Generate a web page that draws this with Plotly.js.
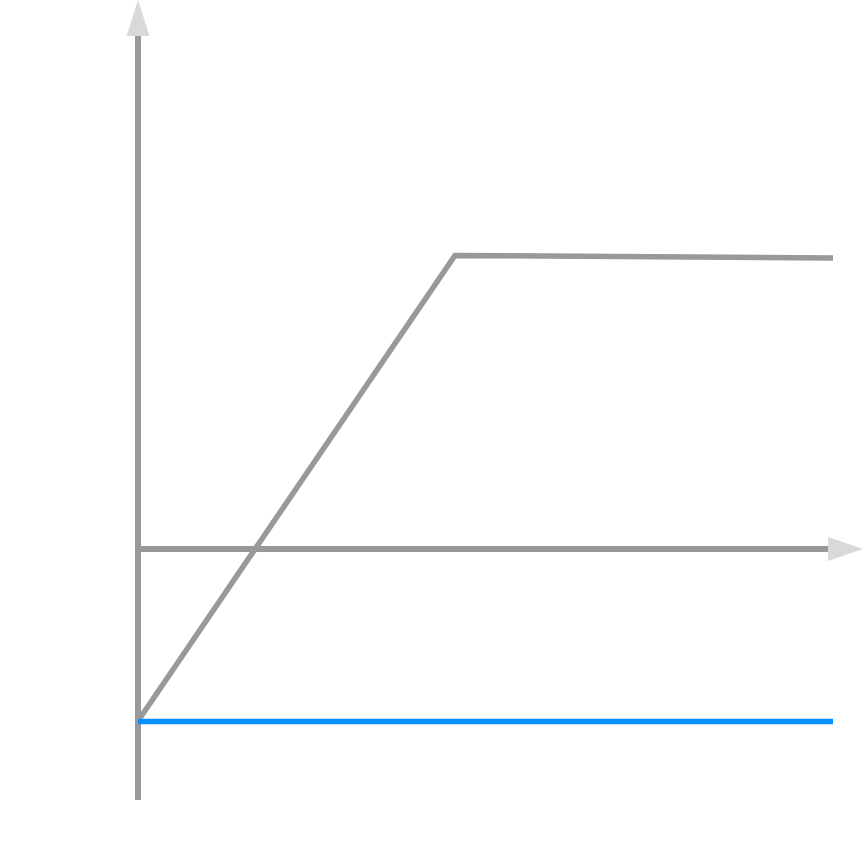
<!DOCTYPE html>
<html>
<head>
<meta charset="utf-8">
<script src="https://cdn.plot.ly/plotly-3.0.1.min.js"></script>
<style>html,body{margin:0;padding:0;background:#fff;}#chart{width:864px;height:867px;}</style>
</head>
<body>
<div id="chart"></div>
<script>
// Data
var grayX = [0, 4.56, 10];
var grayY = [-1.72, 2.935, 2.91];
var blueX = [0, 10];
var blueY = [-1.725, -1.725];

// Axis extents (data units)
var xAxisStart = -0.01, xAxisEnd = 9.93, xArrowTip = 10.43;
var yAxisBottom = -2.51, yAxisTop = 5.13, yArrowTip = 5.49;

var axisColor = '#999999';
var arrowColor = '#d9d9d9';

var traces = [
  {x: grayX, y: grayY, mode: 'lines', line: {color: '#999999', width: 5.5}, hoverinfo: 'skip'},
  {x: blueX, y: blueY, mode: 'lines', line: {color: '#0a8fff', width: 5.5}, hoverinfo: 'skip'}
];

var shapes = [
  {type: 'line', x0: 0, x1: 0, y0: yAxisBottom, y1: yAxisTop, line: {color: axisColor, width: 6}, layer: 'below'},
  {type: 'line', x0: xAxisStart, x1: xAxisEnd, y0: 0, y1: 0, line: {color: axisColor, width: 6}, layer: 'below'},
  {type: 'path', path: 'M ' + (-0.165) + ' ' + yAxisTop + ' L ' + 0.165 + ' ' + yAxisTop + ' L 0 ' + yArrowTip + ' Z',
   fillcolor: arrowColor, line: {width: 0}},
  {type: 'path', path: 'M ' + xAxisEnd + ' ' + (-0.12) + ' L ' + xAxisEnd + ' ' + 0.12 + ' L ' + xArrowTip + ' 0 Z',
   fillcolor: arrowColor, line: {width: 0}}
];

var layout = {
  width: 864, height: 867,
  margin: {l: 0, r: 0, t: 0, b: 0},
  paper_bgcolor: '#ffffff', plot_bgcolor: '#ffffff',
  showlegend: false,
  xaxis: {range: [-1.986, 10.446], visible: false, fixedrange: true},
  yaxis: {range: [-3.18, 5.49], visible: false, fixedrange: true},
  shapes: shapes
};

Plotly.newPlot('chart', traces, layout, {staticPlot: true, displayModeBar: false});
</script>
</body>
</html>
